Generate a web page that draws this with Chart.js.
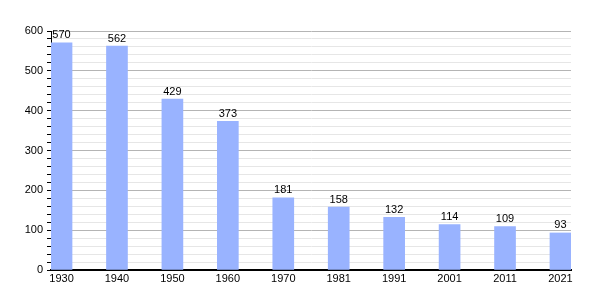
<!DOCTYPE html>
<html>
<head>
<meta charset="utf-8">
<script src="https://cdn.jsdelivr.net/npm/chart.js@4"></script>
<style>
  html, body { margin: 0; padding: 0; background: #fff; }
  #wrap { width: 600px; height: 300px; }
</style>
</head>
<body>
<div id="wrap"><canvas id="popChart" width="600" height="300"></canvas></div>
<script>
// population by census year
const years = ["1930", "1940", "1950", "1960", "1970", "1981", "1991", "2001", "2011", "2021"];
const population = [570, 562, 429, 373, 181, 158, 132, 114, 109, 93];
const yTicks = [0, 100, 200, 300, 400, 500, 600];

const FONT = "'Liberation Sans', Arial, sans-serif";

// draws the value above each bar
const valueLabels = {
    id: 'valueLabels',
    afterDatasetsDraw(chart) {
        const ctx = chart.ctx;
        const meta = chart.getDatasetMeta(0);
        ctx.save();
        ctx.font = "11px " + FONT;
        ctx.fillStyle = "#000";
        ctx.textAlign = "center";
        ctx.textBaseline = "bottom";
        meta.data.forEach((bar, i) => {
            ctx.fillText(String(population[i]), bar.x, bar.y - 2);
        });
        ctx.restore();
    }
};

const points = population.map((v, i) => ({ x: i, y: v }));

new Chart(document.getElementById('popChart').getContext('2d'), {
    type: 'bar',
    data: {
        datasets: [{
            data: points,
            backgroundColor: "#99b3ff",
            barThickness: 21,
            borderWidth: 0
        }]
    },
    options: {
        responsive: false,
        animation: false,
        layout: { padding: { top: 31, right: 29, left: 0, bottom: 0 } },
        plugins: {
            legend: { display: false },
            tooltip: { enabled: false }
        },
        scales: {
            x: {
                type: 'linear',
                offset: false,
                min: -0.19,
                max: 9.19,
                afterBuildTicks(scale) {
                    scale.ticks = years.map((y, i) => ({ value: i }));
                },
                afterFit(scale) { scale.height = 30; },
                ticks: {
                    autoSkip: false,
                    maxRotation: 0,
                    color: "#000",
                    font: { family: FONT, size: 11 },
                    padding: 2,
                    callback: (v) => years[v]
                },
                grid: { display: false, drawTicks: false },
                border: { display: true, color: "#000", width: 2 }
            },
            y: {
                min: 0,
                max: 600,
                afterBuildTicks(scale) {
                    const t = [];
                    for (let v = 0; v <= 600; v += 20) t.push({ value: v });
                    scale.ticks = t;
                },
                afterFit(scale) { scale.width = 51; },
                ticks: {
                    autoSkip: false,
                    color: "#000",
                    font: { family: FONT, size: 11 },
                    padding: 4,
                    callback: (v) => yTicks.includes(v) ? String(v) : ""
                },
                grid: {
                    color: (c) => c.tick && c.tick.value % 100 === 0 ? "#b4b4b4" : "#e6e6e6",
                    tickColor: "#000",
                    tickLength: 4,
                    lineWidth: 1
                },
                border: { display: true, color: "#000", width: 1 }
            }
        }
    },
    plugins: [valueLabels]
});
</script>
</body>
</html>
